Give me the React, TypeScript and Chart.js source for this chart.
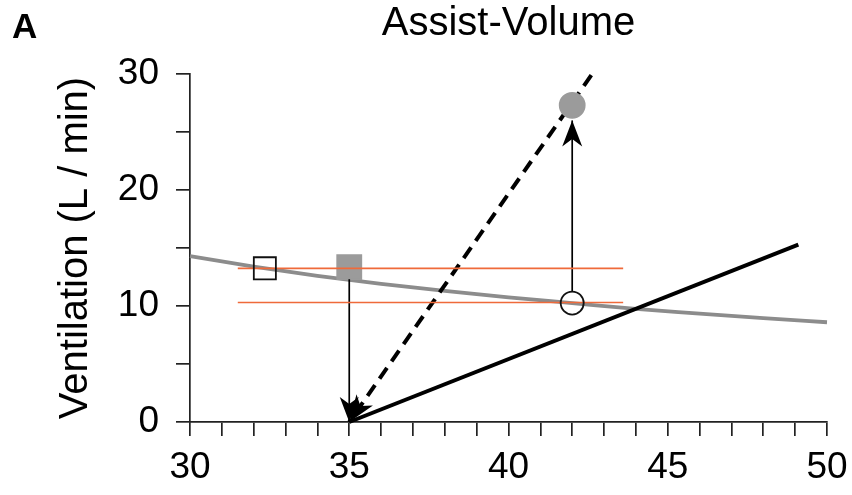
import React, { useEffect, useRef } from 'react';
import { Chart, registerables } from 'chart.js';

Chart.register(...registerables);

const FONT = '"Liberation Sans", Arial, Helvetica, sans-serif';

const panelLabel = 'A';
const chartTitle = 'Assist-Volume';
const yAxisTitle = 'Ventilation (L / min)';

const xMajorTicks = [30, 35, 40, 45, 50];
const yMajorTicks = [0, 10, 20, 30];

// metabolic hyperbola (gray curve)
const curveX = [30, 32, 34, 36, 38, 40, 42, 44, 46, 48, 50];
const curveY = [14.3, 13.4, 12.6, 11.9, 11.3, 10.75, 10.25, 9.75, 9.35, 8.95, 8.6];

// solid black response line
const solidX = [35, 49.1];
const solidY = [0, 15.3];

// dashed black line (arrow tip at the end)
const dashedX = [42.6, 35];
const dashedY = [29.9, 0];

// orange horizontal lines
const orangeX = [31.5, 43.6];
const orangeUpperY = [13.25, 13.25];
const orangeLowerY = [10.3, 10.3];

// thin vertical arrows (tip at the end)
const downArrowX = [35, 35];
const downArrowY = [12.3, 0];
const upArrowX = [42, 42];
const upArrowY = [11.2, 26.0];

// markers
const openSquare = [32.35, 13.25];
const filledSquare = [35, 13.35];
const openCircle = [42, 10.25];
const filledCircle = [42, 27.3];

const pts = (xs: number[], ys: number[]) => xs.map((x, i) => ({ x, y: ys[i] }));

const arrowPlugin = {
  id: 'arrowheads',
  afterDatasetsDraw(chart: any) {
    const { ctx } = chart;
    chart.data.datasets.forEach((ds: any, i: number) => {
      if (!ds.arrowHead) return;
      const meta = chart.getDatasetMeta(i);
      const n = meta.data.length;
      const p1 = meta.data[n - 2];
      const p2 = meta.data[n - 1];
      const ang = Math.atan2(p2.y - p1.y, p2.x - p1.x);
      const L = ds.arrowHead.length;
      const W = ds.arrowHead.width;
      ctx.save();
      ctx.translate(p2.x, p2.y);
      ctx.rotate(ang);
      ctx.beginPath();
      ctx.moveTo(0, 0);
      ctx.lineTo(-L, W / 2);
      ctx.lineTo(-L * 0.72, 0);
      ctx.lineTo(-L, -W / 2);
      ctx.closePath();
      ctx.fillStyle = '#000';
      ctx.fill();
      ctx.restore();
    });
  },
};

const labelPlugin = {
  id: 'panelLabel',
  afterDraw(chart: any) {
    const { ctx } = chart;
    ctx.save();
    ctx.font = `bold 35px ${FONT}`;
    ctx.fillStyle = '#000';
    ctx.textBaseline = 'alphabetic';
    ctx.textAlign = 'left';
    ctx.fillText(panelLabel, 12, 38);
    ctx.restore();
  },
};

export default function App() {
  const ref = useRef<HTMLCanvasElement | null>(null);

  useEffect(() => {
    document.body.style.margin = '0';
    const canvas = ref.current;
    if (!canvas) return;
    const line = (data: any[], extra: any) => ({
      data,
      pointRadius: 0,
      fill: false,
      clip: 20,
      ...extra,
    });
    const marker = (p: number[], style: string, r: number, fill: string, order: number) => ({
      data: [{ x: p[0], y: p[1] }],
      showLine: false,
      pointStyle: style,
      pointRadius: r,
      pointBackgroundColor: fill,
      pointBorderColor: fill === 'transparent' ? '#111' : fill,
      pointBorderWidth: 1.8,
      clip: 20,
      order,
    });

    const chart = new Chart(canvas, {
      type: 'line',
      data: {
        datasets: [
          line(pts(curveX, curveY), { borderColor: '#8c8c8c', borderWidth: 3.8, tension: 0.4, cubicInterpolationMode: 'monotone', order: 6 }),
          line(pts(solidX, solidY), { borderColor: '#000', borderWidth: 4, order: 5 }),
          line(pts(dashedX, dashedY), { borderColor: '#000', borderWidth: 4, borderDash: [13, 8], order: 5, arrowHead: { length: 27, width: 20 } }),
          marker(filledSquare, 'rect', 17, '#9b9b9b', 4),
          line(pts(orangeX, orangeUpperY), { borderColor: '#ef6a3a', borderWidth: 1.7, order: 2 }),
          line(pts(orangeX, orangeLowerY), { borderColor: '#ef6a3a', borderWidth: 1.7, order: 2 }),
          line(pts(downArrowX, downArrowY), { borderColor: '#000', borderWidth: 1.7, order: 3, arrowHead: { length: 25, width: 19 } }),
          line(pts(upArrowX, upArrowY), { borderColor: '#000', borderWidth: 1.7, order: 3, arrowHead: { length: 26, width: 20 } }),
          marker(openSquare, 'rect', 15.6, 'transparent', 1),
          marker(openCircle, 'circle', 11.5, 'transparent', 1),
          marker(filledCircle, 'circle', 12.5, '#9b9b9b', 0),
        ] as any,
      },
      options: {
        responsive: false,
        animation: false,
        devicePixelRatio: 1,
        layout: { padding: { top: 0, right: 25, bottom: 0, left: 0 } },
        plugins: {
          legend: { display: false },
          tooltip: { enabled: false },
          title: {
            display: true,
            text: chartTitle,
            fullSize: false,
            color: '#000',
            font: { family: FONT, size: 40, weight: 'normal' },
            padding: { top: 0, bottom: 26 },
          },
        },
        scales: {
          x: {
            type: 'linear',
            min: 30,
            max: 50,
            afterFit: (s: any) => { s.height = 73; s.paddingRight = 0; s.paddingLeft = 0; },
            ticks: {
              stepSize: 1,
              autoSkip: false,
              maxRotation: 0,
              padding: 10,
              color: '#000',
              font: { family: FONT, size: 37 },
              callback: (v: any) => (xMajorTicks.includes(Number(v)) ? String(v) : ''),
            },
            grid: { drawOnChartArea: false, drawTicks: true, tickLength: 14, color: '#222', lineWidth: 1.7 },
            border: { display: true, color: '#222', width: 1.7 },
          },
          y: {
            type: 'linear',
            min: 0,
            max: 30,
            afterFit: (s: any) => { s.width = 190; s.paddingTop = 0; s.paddingBottom = 0; },
            ticks: {
              stepSize: 5,
              autoSkip: false,
              padding: 17,
              color: '#000',
              font: { family: FONT, size: 37 },
              callback: (v: any) => (yMajorTicks.includes(Number(v)) ? String(v) : ''),
            },
            grid: { drawOnChartArea: false, drawTicks: true, tickLength: 14, color: '#222', lineWidth: 1.7 },
            border: { display: true, color: '#222', width: 1.7 },
            title: {
              display: true,
              text: yAxisTitle,
              color: '#000',
              font: { family: FONT, size: 40 },
              padding: { top: 52, bottom: 0 },
            },
          },
        },
      },
      plugins: [arrowPlugin, labelPlugin],
    } as any);
    return () => chart.destroy();
  }, []);

  return (
    <div style={{ position: 'absolute', left: 0, top: 0, width: 852, height: 495, background: '#fff' }}>
      <canvas ref={ref} width={852} height={495} style={{ display: 'block' }} />
    </div>
  );
}
